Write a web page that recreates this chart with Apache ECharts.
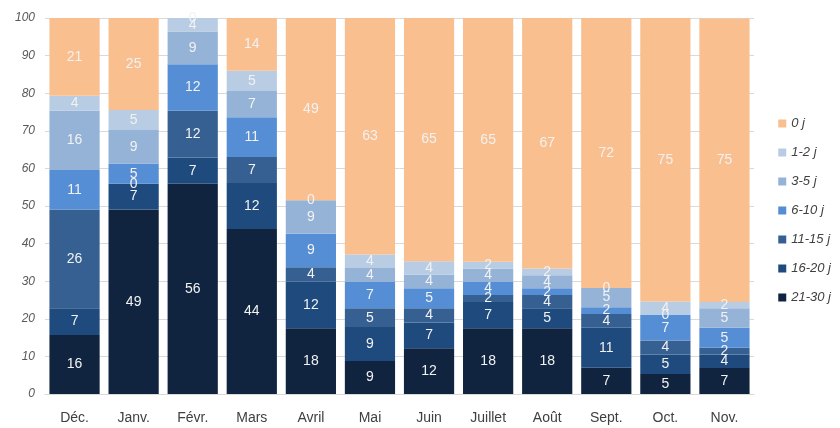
<!DOCTYPE html>
<html>
<head>
<meta charset="utf-8">
<script src="https://cdn.jsdelivr.net/npm/echarts@6/dist/echarts.min.js"></script>
<style>html,body{margin:0;padding:0;background:#fff;}#c{width:840px;height:428px;}</style>
</head>
<body>
<div id="c"></div>
<script>
const months = ['Déc.', 'Janv.', 'Févr.', 'Mars', 'Avril', 'Mai', 'Juin', 'Juillet', 'Août', 'Sept.', 'Oct.', 'Nov.'];
const yTicks = [0, 10, 20, 30, 40, 50, 60, 70, 80, 90, 100];
const d21_30 = [15.7, 49.1, 55.9, 43.9, 17.5, 8.8, 12.2, 17.5, 17.5, 7.0, 5.3, 6.9];
const d16_20 = [7.1, 6.8, 7.0, 12.2, 12.4, 9.0, 6.8, 7.0, 5.3, 10.6, 5.2, 3.6];
const d11_15 = [26.3, 0, 12.4, 6.9, 3.8, 5.0, 3.8, 1.8, 3.5, 3.7, 3.7, 1.8];
const d6_10 = [10.5, 5.4, 12.4, 10.6, 8.9, 7.1, 5.3, 3.6, 1.8, 1.8, 6.8, 5.3];
const d3_5 = [15.7, 8.9, 8.7, 7.0, 8.9, 3.6, 3.6, 3.5, 3.5, 5.1, 0, 5.2];
const d1_2 = [4.0, 5.3, 3.6, 5.4, 0, 3.6, 3.6, 1.8, 1.8, 0, 3.6, 1.7];
const d0 = [20.7, 24.5, 0, 14.0, 49.0, 63.0, 64.8, 65.0, 66.6, 71.8, 75.4, 75.4];

const seriesNames = ['21-30 j', '16-20 j', '11-15 j', '6-10 j', '3-5 j', '1-2 j', '0 j'];
const seriesData = [d21_30, d16_20, d11_15, d6_10, d3_5, d1_2, d0];
const colors = ['#10243f', '#1f4a7e', '#366092', '#558ed5', '#95b3d7', '#b8cce4', '#f9bf8f'];

const chart = echarts.init(document.getElementById('c'), null, {renderer: 'canvas'});
chart.setOption({
  animation: false,
  backgroundColor: '#fff',
  grid: {left: 45, right: 86, top: 18, bottom: 34, containLabel: false},
  legend: {
    orient: 'vertical',
    right: 4,
    top: 112,
    itemWidth: 8,
    itemHeight: 8,
    itemGap: 16,
    icon: 'rect',
    data: seriesNames.slice().reverse(),
    textStyle: {fontFamily: 'Liberation Sans', fontStyle: 'italic', fontSize: 13, color: '#404040'}
  },
  xAxis: {
    type: 'category',
    data: months,
    axisLine: {lineStyle: {color: '#d9d9d9', width: 1}},
    axisTick: {show: false},
    axisLabel: {fontFamily: 'Liberation Sans', fontSize: 14, color: '#404040', margin: 17}
  },
  yAxis: {
    type: 'value',
    min: yTicks[0],
    max: yTicks[yTicks.length - 1],
    interval: yTicks[1] - yTicks[0],
    axisLine: {show: false},
    axisTick: {show: false},
    splitLine: {lineStyle: {color: '#d9d9d9', width: 1}},
    axisLabel: {fontFamily: 'Liberation Sans', fontStyle: 'italic', fontSize: 12, color: '#595959', margin: 10}
  },
  series: seriesNames.map((n, i) => ({
    name: n,
    type: 'bar',
    stack: 'total',
    barCategoryGap: '15%',
    data: seriesData[i],
    itemStyle: {color: colors[i]},
    label: {
      show: true,
      position: 'inside',
      color: '#f2f2f2',
      fontFamily: 'Liberation Sans',
      fontSize: 14,
      formatter: p => Math.round(p.value)
    }
  }))
});
</script>
</body>
</html>
